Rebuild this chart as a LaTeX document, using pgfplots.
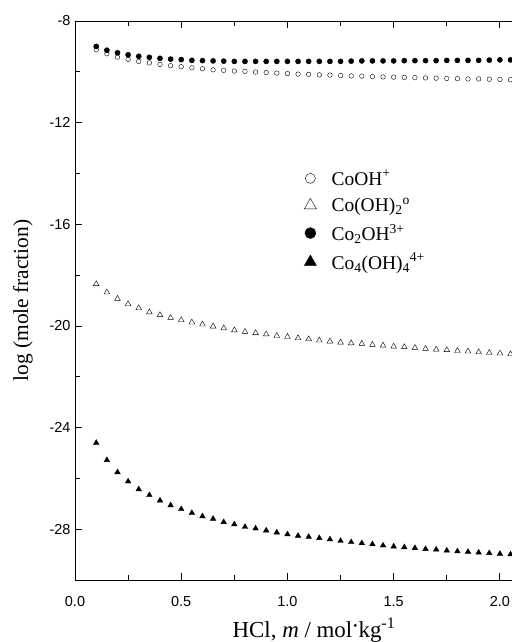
\documentclass[border=0pt]{standalone}
\usepackage{pgfplots}
\pgfplotsset{compat=1.18}
\usepackage{fontspec}
\setmainfont{Liberation Serif}
\setsansfont{Liberation Sans}
\begin{document}
\begin{tikzpicture}
\begin{axis}[
  scale only axis, width=478bp, height=559bp,
  xmin=0, xmax=2.25, ymin=-30, ymax=-8,
  axis x line=box, axis y line*=left, ytick pos=left,
  axis line style={line width=0.9bp},
  every tick/.style={line width=0.8bp, black},
  xtick={0,0.5,1,1.5,2}, minor x tick num=1,
  ytick={-28,-24,-20,-16,-12,-8}, minor y tick num=1,
  tick align=inside, major tick length=7bp, minor tick length=5bp,
  xticklabel style={/pgf/number format/.cd, fixed, fixed zerofill, precision=1},
  /pgf/number format/assume math mode=true,
  ticklabel style={font=\fontsize{14.5}{16}\selectfont\sffamily},
  xticklabel shift=13bp,
  yticklabel shift=1bp,
  xlabel={HCl, \textit{m} / mol\kern-0.03em\raisebox{0.35ex}{·}\kern-0.03em kg\textsuperscript{-1}},
  ylabel={log (mole fraction)},
  xlabel style={font=\fontsize{23}{25}\selectfont},
  ylabel style={font=\fontsize{21.5}{23}\selectfont},
  xlabel shift=4bp,
  ylabel shift=10bp,
  legend style={at={(axis cs:1.045,-13.7)}, anchor=north west, draw=none, fill=none,
    font=\fontsize{19.5}{21}\selectfont, row sep=7bp},
  legend cell align=left,
  legend image code/.code={\draw[#1] plot coordinates {(0cm,0cm)}; \path (-10bp,0bp) (19bp,0bp);},
]
\addlegendimage{only marks, mark=o, mark size=5bp, black, thin}
\addlegendentry{CoOH\textsuperscript{+}}
\addlegendimage{only marks, mark=triangle, mark size=7bp, black, thin}
\addlegendentry{Co(OH)\textsubscript{2}\textsuperscript{o}}
\addlegendimage{only marks, mark=*, mark size=5.5bp, black}
\addlegendentry{Co\textsubscript{2}OH\textsuperscript{3+}}
\addlegendimage{only marks, mark=triangle*, mark size=7bp, black}
\addlegendentry{Co\textsubscript{4}(OH)\textsubscript{4}\textsuperscript{4+}}

% CoOH+
\addplot[only marks, mark=o, mark size=2.3bp, black, thin, forget plot] table {
x y
0.10 -9.13
0.15 -9.29
0.20 -9.42
0.25 -9.51
0.30 -9.59
0.35 -9.65
0.40 -9.71
0.45 -9.76
0.50 -9.80
0.55 -9.84
0.60 -9.88
0.65 -9.92
0.70 -9.94
0.75 -9.97
0.80 -9.98
0.85 -10.01
0.90 -10.03
0.95 -10.05
1.00 -10.07
1.05 -10.09
1.10 -10.10
1.15 -10.12
1.20 -10.13
1.25 -10.15
1.30 -10.16
1.35 -10.17
1.40 -10.19
1.45 -10.20
1.50 -10.21
1.55 -10.22
1.60 -10.23
1.65 -10.24
1.70 -10.25
1.75 -10.26
1.80 -10.27
1.85 -10.28
1.90 -10.28
1.95 -10.29
2.00 -10.30
2.05 -10.31
};
% Co(OH)2
\addplot[only marks, mark=triangle, mark size=3.3bp, black, thin, forget plot] table {
x y
0.10 -18.35
0.15 -18.68
0.20 -18.93
0.25 -19.14
0.30 -19.30
0.35 -19.46
0.40 -19.57
0.45 -19.68
0.50 -19.77
0.55 -19.86
0.60 -19.94
0.65 -20.02
0.70 -20.09
0.75 -20.17
0.80 -20.23
0.85 -20.28
0.90 -20.33
0.95 -20.39
1.00 -20.43
1.05 -20.48
1.10 -20.52
1.15 -20.57
1.20 -20.61
1.25 -20.65
1.30 -20.68
1.35 -20.70
1.40 -20.74
1.45 -20.77
1.50 -20.81
1.55 -20.83
1.60 -20.86
1.65 -20.90
1.70 -20.93
1.75 -20.95
1.80 -20.98
1.85 -21.00
1.90 -21.03
1.95 -21.06
2.00 -21.08
2.05 -21.11
};
% Co2OH3+
\addplot[only marks, mark=*, mark size=2.6bp, black, forget plot] table {
x y
0.10 -9.00
0.15 -9.15
0.20 -9.25
0.25 -9.33
0.30 -9.39
0.35 -9.43
0.40 -9.47
0.45 -9.50
0.50 -9.52
0.55 -9.55
0.60 -9.56
0.65 -9.57
0.70 -9.58
0.75 -9.59
0.80 -9.59
0.85 -9.59
0.90 -9.59
0.95 -9.59
1.00 -9.59
1.05 -9.59
1.10 -9.59
1.15 -9.59
1.20 -9.59
1.25 -9.59
1.30 -9.58
1.35 -9.57
1.40 -9.57
1.45 -9.57
1.50 -9.57
1.55 -9.56
1.60 -9.56
1.65 -9.56
1.70 -9.56
1.75 -9.55
1.80 -9.55
1.85 -9.55
1.90 -9.55
1.95 -9.54
2.00 -9.53
2.05 -9.53
};
% Co4(OH)4 4+
\addplot[only marks, mark=triangle*, mark size=3.2bp, black, forget plot] table {
x y
0.10 -24.60
0.15 -25.28
0.20 -25.76
0.25 -26.12
0.30 -26.43
0.35 -26.66
0.40 -26.87
0.45 -27.06
0.50 -27.21
0.55 -27.36
0.60 -27.49
0.65 -27.59
0.70 -27.72
0.75 -27.81
0.80 -27.91
0.85 -27.97
0.90 -28.05
0.95 -28.13
1.00 -28.20
1.05 -28.26
1.10 -28.30
1.15 -28.35
1.20 -28.40
1.25 -28.46
1.30 -28.51
1.35 -28.55
1.40 -28.59
1.45 -28.64
1.50 -28.68
1.55 -28.71
1.60 -28.74
1.65 -28.78
1.70 -28.80
1.75 -28.84
1.80 -28.87
1.85 -28.89
1.90 -28.92
1.95 -28.94
2.00 -28.97
2.05 -28.99
};
\coordinate (O) at (rel axis cs:0,0);
\end{axis}
\pgfresetboundingbox
\path[use as bounding box] (O) ++(-75bp,-62bp) rectangle ++(512bp,642bp);
\end{tikzpicture}
\end{document}
